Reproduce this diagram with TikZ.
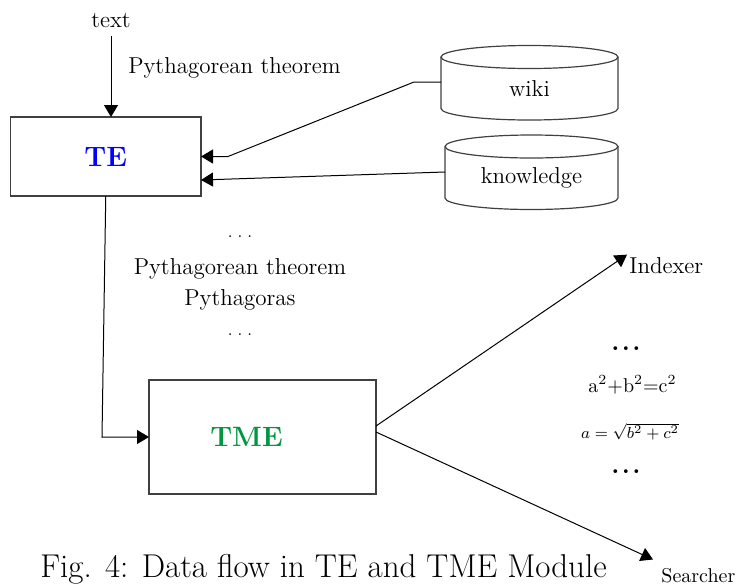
\documentclass[tikz,border=0pt]{standalone}
\usepackage{tikz}
\usetikzlibrary{arrows.meta}
\definecolor{teblue}{RGB}{0,0,255}
\definecolor{tmegreen}{RGB}{0,150,64}
\newcommand{\dbdrum}[2]{%
  \draw[boxline] (#1.north west) -- ([yshift=5.75pt]#1.south west)
    arc[start angle=180, end angle=360, x radius=#2, y radius=5.75pt] -- (#1.north east);
  \draw[boxline] (#1.north) ellipse[x radius=#2, y radius=5.75pt];}
\newcommand{\spacedots}[1]{.\hspace{#1}.\hspace{#1}.}

\begin{document}
\begin{tikzpicture}[x=0.5pt, y=-0.5pt,
	txt/.style={font=\fontsize{11.5}{14}\selectfont, inner sep=1pt},
	modbox/.style={draw=black!75, line width=0.6pt, outer sep=0pt, font=\fontsize{14}{16}\selectfont\bfseries},
	boxline/.style={draw=black!75, line width=0.6pt},
	store/.style={outer sep=0pt, inner sep=0pt, font=\fontsize{11.5}{14}\selectfont},
	flow/.style={-{Triangle[length=6pt,width=7pt]}, line width=0.5pt}]
		%%%%% START %%%%%
		
		\useasboundingbox (0,0) rectangle (745,585);
		
		\node[modbox, minimum width=95.25pt, minimum height=39.5pt, text=teblue] (TE) at (105.75,156.5) {TE};
		\node[modbox, minimum width=113.5pt, minimum height=57pt, text=tmegreen] (TME) at (262.5,437) {\hspace*{-16pt}TME};
		
		\node[store, minimum width=88.5pt, minimum height=31.5pt] (wiki) at (529.5,88.5) {wiki};
		\node[store, minimum width=86.5pt, minimum height=31.5pt] (know) at (531.5,178) {knowledge};
		\dbdrum{wiki}{44.25pt}
		\dbdrum{know}{43.25pt}
		
		\node[txt, anchor=base] (input) at (111,27) {text};
		\node[txt, anchor=base] (query) at (234.5,73) {Pythagorean theorem};
		
		\node[font=\fontsize{8}{10}\selectfont, inner sep=1pt, anchor=base] (dotsA) at (240,237) {\spacedots{2.5pt}};
		\node[txt, anchor=base] (termA) at (240,274) {Pythagorean theorem};
		\node[txt, anchor=base] (termB) at (240,305) {Pythagoras};
		\node[font=\fontsize{8}{10}\selectfont, inner sep=1pt, anchor=base] (dotsB) at (240,335) {\spacedots{2.5pt}};
		
		\node[txt, anchor=base west] (indexer) at (627,273) {Indexer};
		\node[font=\fontsize{10}{12}\selectfont, inner sep=1pt, anchor=base west] (searcher) at (659,582) {Searcher};
		
		\node[font=\fontsize{13}{15}\selectfont\bfseries, anchor=base] (dotsC) at (626,350) {\spacedots{1.2pt}};
		\node[font=\fontsize{10}{12}\selectfont, anchor=base] (pyth) at (632.5,392) {a\textsuperscript{2}+b\textsuperscript{2}=c\textsuperscript{2}};
		\node[font=\fontsize{8}{10}\selectfont, anchor=base] (root) at (630,438) {$a=\sqrt{b^2+c^2}$};
		\node[font=\fontsize{13}{15}\selectfont\bfseries, anchor=base] (dotsD) at (626,473) {\spacedots{1.2pt}};
		
		\node[font=\fontsize{16.5}{19}\selectfont, anchor=base] (caption) at (323.5,577) {Fig. 4: Data flow in TE and TME Module};
		
		% connectors
		\draw[flow, shorten <=3pt] (input.south) -- (input.south |- TE.north);
		\draw[flow] ([yshift=3.25pt]wiki.west) -- ++(-27,0) -- ([xshift=13.5pt]TE.east) -- (TE.east);
		\draw[flow] ([yshift=3pt]know.west) -- ([yshift=-11.75pt]TE.east);
		\draw[flow] (TE.south) -- ([xshift=-23.5pt]TME.west) -- (TME.west);
		\draw[flow] ([yshift=5.5pt]TME.east) -- (indexer.north west);
		\draw[flow] ([yshift=2.5pt]TME.east) -- ([shift={(-3pt,3pt)}]searcher.north west);
		
		%%%%% END %%%%%
\end{tikzpicture}
\end{document}
